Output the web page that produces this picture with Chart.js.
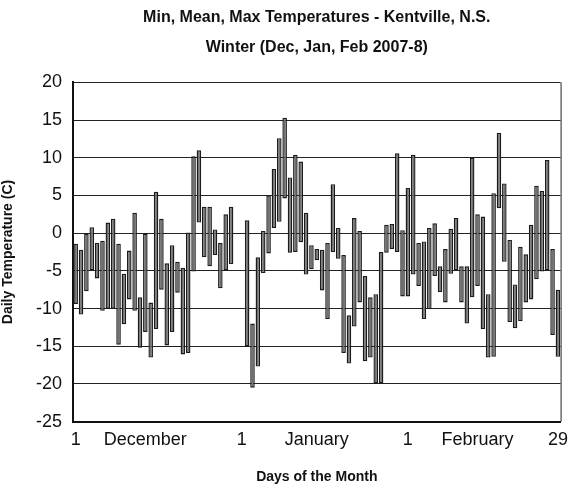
<!DOCTYPE html>
<html>
<head>
<meta charset="utf-8">
<script src="https://cdn.jsdelivr.net/npm/chart.js@4/dist/chart.umd.min.js"></script>
<style>
    html, body { margin: 0; padding: 0; background: #fff; }
    #chart_box { width: 576px; height: 488px; }
</style>
</head>
<body>
<div id="chart_box"><canvas id="temp_chart"></canvas></div>
<script>
// daily max / min, Dec 1 2007 .. Feb 29 2008 (null = no record)
const day_max = [
    -1.4, -2.2, 0, 0.8, -1.3, -1, 1.4, 1.9, -1.4, -5.4,
    -2.3, 2.7, -8.5, 0, -9.2, 5.5, 1.9, -4, -1.6, -3.8,
    -4.6, 0.1, 10.2, 11, 3.5, 3.5, 0.5, -1.3, 2.5, 3.5, null,
    null, 1.7, -12, -3.2, 0.3, 5, 8.5, 12.6, 15.3, 7.4,
    10.4, 9.5, 2.7, -1.6, -2.1, -2.2, -1.3, 6.5, 0.7, -2.9,
    -10.9, 2, 0.3, -5.7, -8.5, -8.1, -2.5, 1.1, 1.2, 10.6, 0.4,
    6, 10.4, -1.3, -1.1, 0.7, 1.3, -4.4, -2.1, 0.6, 2,
    -4.4, -4.4, 10, 2.5, 2.2, -8.1, 5.3, 13.3, 6.6, -0.9,
    -6.8, -1.8, -2.8, 1.1, 6.3, 5.6, 9.7, -2.1, -7.5,
];
const day_min = [
    -9.4, -10.8, -7.7, -4.9, -6, -10.3, -10, -10, -14.8, -12.1,
    -8.8, -10.3, -15.2, -13.1, -16.5, -12.7, -7.5, -14.9, -13.1, -7.9,
    -16.1, -15.9, -5.1, 1.4, -3.2, -4.4, -2.9, -7.3, -4.9, -4.1, null,
    null, -15, -20.5, -17.7, -5.3, -2.7, 0.7, 1.5, 4.6, -2.6,
    -2.5, -1.2, -5.5, -4.8, -3.6, -7.6, -11.4, -2.5, -3.4, -15.9,
    -17.3, -12.4, -9.2, -17, -16.5, -19.9, -19.9, -2.6, -2.1, -2.5, -8.4,
    -8.4, -5.5, -7, -11.4, -10.1, -5.7, -7.8, -9.2, -5.4, -4.9,
    -9.2, -12, -8.5, -7, -12.7, -16.5, -16.4, 3.3, -3.8, -11.8,
    -12.6, -11.7, -9.2, -8.8, -6.1, -5.1, -4.9, -13.5, -16.4,
];

const month_days = [31, 31, 29];
const x_tick_index = [0, 13, 31, 45, 62, 75, 90];
const x_tick_text = ['1', 'December', '1', 'January', '1', 'February', '29'];

const y_min = -25;
const y_max = 20;
const y_step = 5;

const day_labels = [];
month_days.forEach(function (count) {
    for (let d = 1; d <= count; d += 1) {
        day_labels.push(String(d));
    }
});

const bar_ranges = day_max.map(function (hi, idx) {
    const lo = day_min[idx];
    return hi === null || lo === null ? null : [lo, hi];
});

const font_family = '"Liberation Sans", Arial, sans-serif';

new Chart(document.getElementById('temp_chart').getContext('2d'), {
    type: 'bar',
    data: {
        labels: day_labels,
        datasets: [
            {
                label: 'Daily range',
                data: bar_ranges,
                backgroundColor: '#707070',
                borderColor: '#1c1c1c',
                borderWidth: 1.4,
                borderSkipped: false,
                barPercentage: 0.85,
                categoryPercentage: 1,
            },
        ],
    },
    options: {
        responsive: true,
        maintainAspectRatio: false,
        animation: false,
        layout: { padding: { left: 0, right: 8, top: 0, bottom: 0 } },
        plugins: {
            legend: { display: false },
            tooltip: { enabled: false },
            title: {
                display: true,
                fullSize: false,
                text: 'Min, Mean, Max Temperatures - Kentville, N.S.',
                color: '#111',
                font: { family: font_family, size: 16, weight: 'bold' },
                padding: { top: 8, bottom: 11 },
            },
            subtitle: {
                display: true,
                fullSize: false,
                text: 'Winter (Dec, Jan, Feb 2007-8)',
                color: '#111',
                font: { family: font_family, size: 16, weight: 'bold' },
                padding: { top: 0, bottom: 25 },
            },
        },
        scales: {
            x: {
                grid: { display: false, drawTicks: false },
                border: { display: true, color: '#111', width: 2 },
                ticks: {
                    autoSkip: false,
                    maxRotation: 0,
                    padding: 8,
                    color: '#111',
                    font: { family: font_family, size: 18 },
                    callback: function (value, index) {
                        const pos = x_tick_index.indexOf(index);
                        return pos >= 0 ? x_tick_text[pos] : '';
                    },
                },
                title: {
                    display: true,
                    text: 'Days of the Month',
                    color: '#111',
                    font: { family: font_family, size: 14, weight: 'bold' },
                    padding: { top: 10, bottom: 2 },
                },
            },
            y: {
                min: y_min,
                max: y_max,
                afterFit: function (scale) {
                    scale.width = 73;
                },
                grid: { color: '#222', lineWidth: 1, drawTicks: false },
                border: { display: true, color: '#111', width: 2 },
                ticks: {
                    stepSize: y_step,
                    padding: 11,
                    color: '#111',
                    font: { family: font_family, size: 18 },
                },
                title: {
                    display: true,
                    text: 'Daily Temperature (C)',
                    color: '#111',
                    font: { family: font_family, size: 14, weight: 'bold' },
                    padding: { top: 0, bottom: 4 },
                },
            },
        },
    },
    plugins: [
        {
            id: 'right_frame',
            afterDraw: function (chart) {
                const area = chart.chartArea;
                const ctx = chart.ctx;
                ctx.save();
                ctx.strokeStyle = '#222';
                ctx.lineWidth = 1;
                ctx.beginPath();
                ctx.moveTo(area.right + 0.5, area.top);
                ctx.lineTo(area.right + 0.5, area.bottom);
                ctx.stroke();
                ctx.restore();
            },
        },
    ],
});
</script>
</body>
</html>
